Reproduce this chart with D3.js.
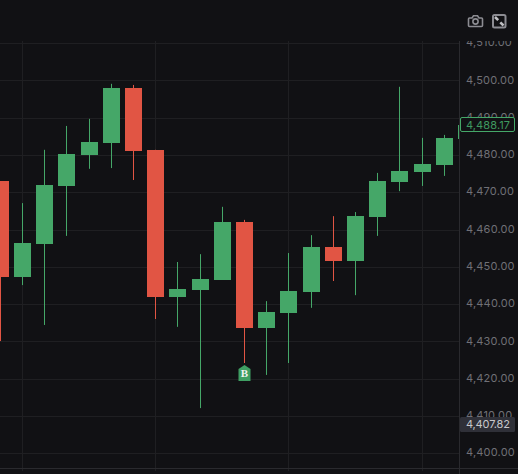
<!DOCTYPE html>
<html><head><meta charset="utf-8">
<script src="https://cdn.jsdelivr.net/npm/d3@7"></script>
<style>html,body{margin:0;padding:0;background:#111114;overflow:hidden}svg{display:block}</style>
</head><body><svg id="c" width="518" height="474"></svg>
<script>
const opens  = [4473.0,4447.3,4456.1,4471.7,4480.0,4483.2,4498.0,4481.4,4441.9,4443.8,4446.5,4462.0,4433.6,4437.6,4443.3,4455.3,4451.6,4463.4,4472.8,4475.4,4477.3,4484.3];
const closes = [4447.3,4456.4,4472.0,4480.3,4483.5,4498.0,4481.1,4441.9,4444.1,4446.7,4462.0,4433.6,4437.9,4443.5,4455.3,4451.6,4463.6,4473.0,4475.7,4477.6,4484.6,4488.17];
const highs  = [4473.0,4467.1,4481.4,4487.8,4489.7,4499.1,4498.8,4481.4,4451.3,4453.4,4466.1,4462.6,4440.8,4453.7,4458.5,4463.6,4464.7,4475.2,4498.3,4484.6,4485.4,4488.17];
const lows   = [4430.1,4445.1,4434.4,4458.3,4476.3,4476.5,4473.3,4436.0,4433.9,4412.1,4446.5,4424.2,4421.0,4424.2,4439.0,4446.2,4442.4,4458.3,4470.3,4471.7,4474.4,4484.3];
const priceTicks = [4400,4410,4420,4430,4440,4450,4460,4470,4480,4490,4500,4510];
const timeGridIdx = [1,7,13,19];
const lastPrice = 4488.17;
const crossPrice = 4407.82;
const buyIndex = 11;
const buyLabel = "B";

const UP="#45a768", DOWN="#e15544", GRID="#1f1f22", BORDER="#2a2a2e", TXT="#707076";
const W=459, TOP=41, BOT=468;
const svg=d3.select("#c");
const y=d3.scaleLinear().domain([4400,4510]).range([453.2,43.2]);
const x=d3.scaleLinear().domain([0,21]).range([0.3,466.5]);
const fmt=d3.format(",.2f");
const px=v=>Math.round(v)+0.5;

const defs=svg.append("defs");
defs.append("clipPath").attr("id","plot").append("rect").attr("x",0).attr("y",TOP).attr("width",W).attr("height",BOT-TOP);
defs.append("clipPath").attr("id","axis").append("rect").attr("x",W).attr("y",TOP).attr("width",518-W).attr("height",BOT-TOP);

// grid first, so candles sit on top
svg.append("g").selectAll("line").data(timeGridIdx).join("line")
 .attr("x1",d=>Math.floor(x(d))+0.5).attr("x2",d=>Math.floor(x(d))+0.5)
 .attr("y1",TOP).attr("y2",BOT+3).attr("stroke",GRID);
const g=svg.append("g").attr("clip-path","url(#plot)");
g.append("g").selectAll("line").data(priceTicks).join("line").attr("x1",0).attr("x2",W)
 .attr("y1",d=>px(y(d))).attr("y2",d=>px(y(d))).attr("stroke",GRID);

const idx=d3.range(opens.length);
const col=i=>closes[i]>=opens[i]?UP:DOWN;
g.append("g").selectAll("line").data(idx).join("line").attr("x1",i=>Math.floor(x(i))+0.5).attr("x2",i=>Math.floor(x(i))+0.5)
 .attr("y1",i=>y(highs[i])).attr("y2",i=>y(lows[i])).attr("stroke",col);
g.append("g").selectAll("rect").data(idx).join("rect").attr("x",i=>Math.floor(x(i))-8).attr("width",17)
 .attr("y",i=>Math.round(y(Math.max(opens[i],closes[i]))))
 .attr("height",i=>Math.round(y(Math.min(opens[i],closes[i])))-Math.round(y(Math.max(opens[i],closes[i])))).attr("fill",col);

// buy marker
const mx=Math.floor(x(buyIndex))+0.5, my=Math.round(y(lows[buyIndex]))+2;
g.append("path").attr("d",`M${mx},${my} L${mx+6},${my+4} V${my+16} H${mx-6} V${my+4} Z`).attr("fill","#3f9f63");
g.append("text").attr("x",mx).attr("y",my+12).attr("text-anchor","middle").attr("fill","#f2f2f2")
 .attr("font-family","'Liberation Serif',serif").attr("font-weight","bold").attr("font-size",11).text(buyLabel);

// axes frame
svg.append("line").attr("x1",W+.5).attr("x2",W+.5).attr("y1",TOP).attr("y2",474).attr("stroke",BORDER);
svg.append("line").attr("x1",0).attr("x2",518).attr("y1",468.5).attr("y2",468.5).attr("stroke",BORDER);

// price axis via d3 axis
const ag=svg.append("g").attr("clip-path","url(#axis)");
const axis=d3.axisRight(y).tickValues(priceTicks).tickFormat(fmt).tickSize(0).tickPadding(0);
const ax=ag.append("g").attr("transform","translate(466,0)").call(axis);
ax.select(".domain").remove();
ax.selectAll("text").attr("fill",TXT).attr("font-family","Inter,Roboto,sans-serif").attr("font-size",11).attr("letter-spacing",0.2).attr("dy","0.24em");

// last price tag
const ly=y(lastPrice);
svg.append("rect").attr("x",460.5).attr("y",117.5).attr("width",54).attr("height",14).attr("rx",1.5).attr("fill","#111114").attr("stroke",UP);
svg.append("text").attr("x",466).attr("y",ly).attr("dy","0.36em").attr("fill","#3f9a60").attr("font-family","Inter,Roboto,sans-serif").attr("font-size",11).attr("textLength",44).text(fmt(lastPrice));
// cross tag
const cy=y(crossPrice);
svg.append("rect").attr("x",460).attr("y",417).attr("width",55).attr("height",15).attr("rx",1.5).attr("fill","#2f3038");
svg.append("text").attr("x",466).attr("y",cy).attr("dy","0.36em").attr("fill","#c8c8cc").attr("font-family","Inter,Roboto,sans-serif").attr("font-size",11).attr("textLength",44).text(fmt(crossPrice));

// icons
const ic=svg.append("g").attr("fill","none").attr("stroke","#8c8c92").attr("stroke-width",1.6);
ic.append("path").attr("d","M469.5,18 h2.5 l1.5,-2.3 h4 l1.5,2.3 h2.5 a1,1 0 0 1 1,1 v6.5 a1,1 0 0 1 -1,1 h-12 a1,1 0 0 1 -1,-1 v-6.5 a1,1 0 0 1 1,-1 Z");
ic.append("circle").attr("cx",475.5).attr("cy",21.5).attr("r",2.6);
ic.append("rect").attr("x",493).attr("y",15).attr("width",12.5).attr("height",12.5).attr("rx",1.5).attr("stroke-width",2);
ic.append("path").attr("d","M495,17 l3.2,3.2 M503.5,25.5 l-3.2,-3.2").attr("stroke","#c0c0c4").attr("stroke-width",2.6);
</script></body></html>
